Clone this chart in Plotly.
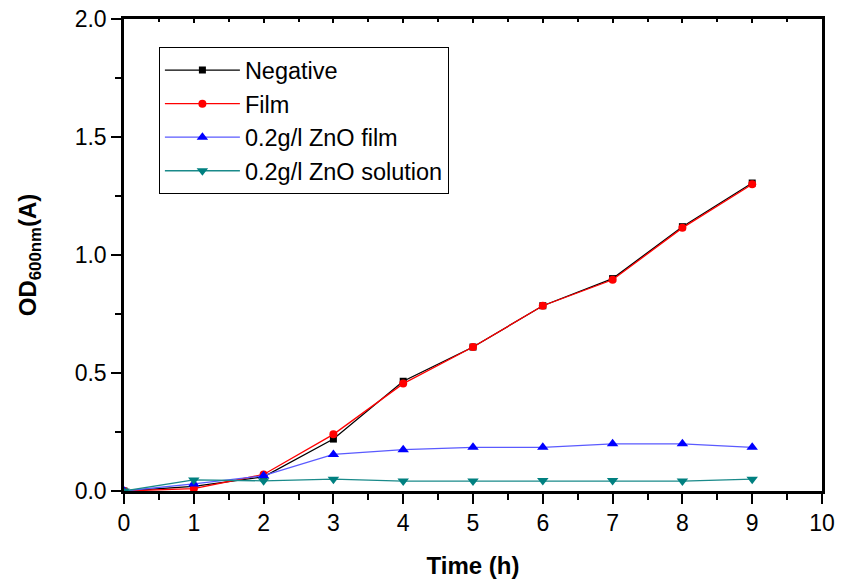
import plotly.graph_objects as go

time_h = [0, 1, 2, 3, 4, 5, 6, 7, 8, 9]
negative = [0.0, 0.02, 0.06, 0.22, 0.465, 0.61, 0.785, 0.90, 1.12, 1.305]
film = [0.0, 0.01, 0.07, 0.24, 0.455, 0.61, 0.785, 0.895, 1.115, 1.30]
zno_film = [0.0, 0.03, 0.065, 0.155, 0.175, 0.185, 0.185, 0.20, 0.20, 0.185]
zno_solution = [0.0, 0.047, 0.043, 0.05, 0.042, 0.042, 0.045, 0.045, 0.042, 0.05]

series = [
    ("Negative", negative, "black", "black", "square", 7),
    ("Film", film, "red", "red", "circle", 8),
    ("0.2g/l ZnO film", zno_film, "#5a5aff", "blue", "triangle-up", 10),
    ("0.2g/l ZnO solution", zno_solution, "#1a8a8a", "#008080", "triangle-down", 10),
]

fig = go.Figure()
for name, ys, lc, mc, sym, sz in series:
    fig.add_trace(go.Scatter(
        x=time_h, y=ys, name=name, mode="lines+markers",
        line=dict(color=lc, width=1.3),
        marker=dict(color=mc, symbol=sym, size=sz),
    ))

# invisible trace for top axis ticks
fig.add_trace(go.Scatter(x=[0], y=[0], xaxis="x2", showlegend=False,
                         mode="markers", marker=dict(opacity=0), hoverinfo="skip"))

fig.update_layout(
    width=843, height=588,
    paper_bgcolor="white", plot_bgcolor="white",
    margin=dict(l=124, r=21, t=19, b=97, autoexpand=False),
    font=dict(family="Liberation Sans, Arial, sans-serif", color="black", size=23),
    xaxis=dict(
        range=[0, 10], dtick=1, tick0=0, automargin=False,
        showgrid=False, zeroline=False,
        showline=True, linecolor="black", linewidth=2.5, mirror=True,
        ticks="outside", ticklen=10, tickwidth=2, tickcolor="black",
        minor=dict(dtick=0.5, ticks="outside", ticklen=6, tickwidth=2, tickcolor="black"),
        tickfont=dict(size=23),
        title=dict(text="<b>Time (h)</b>", font=dict(size=24), standoff=22),
    ),
    xaxis2=dict(
        overlaying="x", side="top", range=[0, 10], dtick=1, tick0=0, automargin=False,
        showgrid=False, zeroline=False, showticklabels=False,
        ticks="inside", ticklen=4, tickwidth=1.5, tickcolor="black",
        minor=dict(dtick=0.5, ticks="inside", ticklen=3, tickwidth=1.5, tickcolor="black"),
        showline=False,
    ),
    yaxis=dict(
        range=[0, 2.0], dtick=0.5, tick0=0, tickformat=".1f", automargin=False,
        showgrid=False, zeroline=False,
        showline=True, linecolor="black", linewidth=2.5, mirror=True,
        ticks="outside", ticklen=10, tickwidth=2, tickcolor="black",
        minor=dict(dtick=0.25, ticks="outside", ticklen=6, tickwidth=2, tickcolor="black"),
        tickfont=dict(size=23),
        title=dict(text="<b>OD<sub>600nm</sub>(A)</b>", font=dict(size=24), standoff=32),
    ),
    legend=dict(
        x=0.05, y=0.94, xanchor="left", yanchor="top",
        bgcolor="white", bordercolor="black", borderwidth=1,
        font=dict(size=23.5), tracegroupgap=0, itemwidth=75,
    ),
    showlegend=True,
)

fig.write_html("out.html", config={"displayModeBar": False},
               post_script="document.body.style.margin='0';")
